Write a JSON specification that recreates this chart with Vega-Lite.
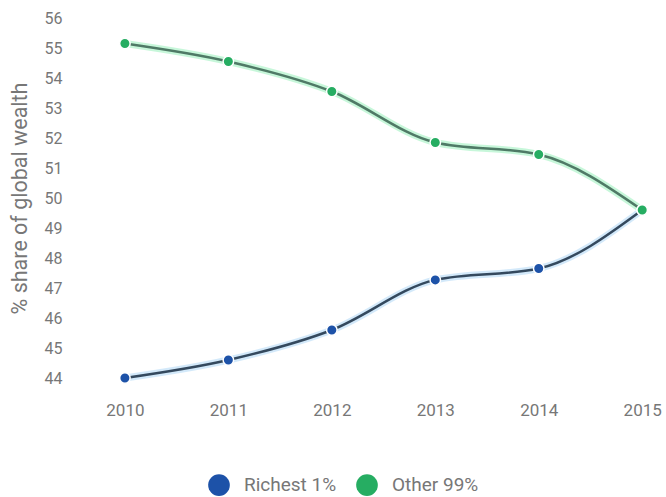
{
  "$schema": "https://vega.github.io/schema/vega-lite/v6.json",
  "width": 598,
  "height": 360,
  "autosize": {"type": "none"},
  "padding": {"left": 68, "top": 18, "right": 0, "bottom": 119},
  "background": "white",
  "config": {"view": {"stroke": null}, "font": "Roboto"},
  "data": {
    "values": [
      {"year": 2010, "group": "Richest 1%", "share": 44.0},
      {"year": 2011, "group": "Richest 1%", "share": 44.6},
      {"year": 2012, "group": "Richest 1%", "share": 45.6},
      {"year": 2013, "group": "Richest 1%", "share": 47.27},
      {"year": 2014, "group": "Richest 1%", "share": 47.65},
      {"year": 2015, "group": "Richest 1%", "share": 49.6},
      {"year": 2010, "group": "Other 99%", "share": 55.15},
      {"year": 2011, "group": "Other 99%", "share": 54.55},
      {"year": 2012, "group": "Other 99%", "share": 53.55},
      {"year": 2013, "group": "Other 99%", "share": 51.85},
      {"year": 2014, "group": "Other 99%", "share": 51.45},
      {"year": 2015, "group": "Other 99%", "share": 49.6}
    ]
  },
  "encoding": {
    "x": {
      "field": "year", "type": "quantitative",
      "scale": {"domain": [2009.45, 2015.23], "nice": false, "zero": false},
      "axis": {"values": [2010, 2011, 2012, 2013, 2014, 2015], "format": "d", "grid": false, "domain": false, "ticks": false, "labelPadding": 24, "labelFontSize": 17, "labelColor": "#777777", "title": null, "labelFlush": false}
    },
    "y": {
      "field": "share", "type": "quantitative",
      "scale": {"domain": [44, 56], "nice": false, "zero": false},
      "axis": {"values": [44, 45, 46, 47, 48, 49, 50, 51, 52, 53, 54, 55, 56], "grid": false, "domain": false, "ticks": false, "labelPadding": 6, "labelFontSize": 16, "labelColor": "#777777", "title": "% share of global wealth", "titleFontSize": 21.5, "titleFontWeight": "normal", "titleColor": "#777777", "titlePadding": 13}
    }
  },
  "layer": [
    {
      "mark": {"type": "line", "interpolate": "monotone", "strokeWidth": 7, "opacity": 0.5},
      "encoding": {
        "stroke": {"field": "group", "type": "nominal", "scale": {"domain": ["Richest 1%", "Other 99%"], "range": ["#a8d4f5", "#8ff0b5"]}, "legend": null}
      }
    },
    {
      "mark": {"type": "line", "interpolate": "monotone", "strokeWidth": 2.5},
      "encoding": {
        "stroke": {"field": "group", "type": "nominal", "scale": {"domain": ["Richest 1%", "Other 99%"], "range": ["#34495e", "#4f7a66"]}, "legend": null}
      }
    },
    {
      "mark": {"type": "circle", "size": 110, "stroke": "white", "strokeWidth": 1.5, "opacity": 1},
      "encoding": {
        "fill": {
          "field": "group", "type": "nominal",
          "scale": {"domain": ["Richest 1%", "Other 99%"], "range": ["#1d52a8", "#26ad62"]},
          "legend": {
            "orient": "none", "direction": "horizontal", "legendX": 140, "legendY": 456,
            "title": null, "labelFontSize": 19, "labelColor": "#777777", "symbolSize": 470,
            "symbolType": "circle", "labelOffset": 14, "columnPadding": 19, "padding": 0, "symbolStrokeWidth": 0,
            "encode": {"symbols": {"update": {"fill": {"signal": "datum.value === 'Richest 1%' ? '#1a5fd0' : '#22c060'"}, "stroke": {"value": "transparent"}}}}
          }
        }
      }
    }
  ],
  "resolve": {"scale": {"stroke": "independent"}}
}
